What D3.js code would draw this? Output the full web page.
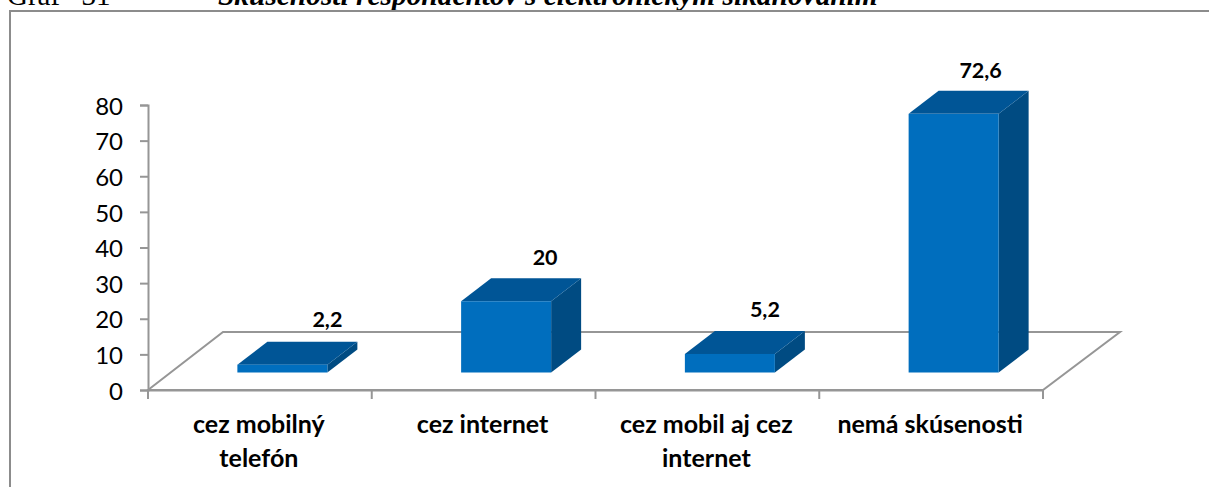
<!DOCTYPE html>
<html>
<head>
<meta charset="utf-8">
<script src="https://cdn.jsdelivr.net/npm/d3@7"></script>
<style>
  html, body { margin: 0; padding: 0; background: #fff; overflow: hidden; }
  svg { display: block; }
  .tick-label { font: 24px Lato, sans-serif; fill: #000; }
  .cat { font: bold 25px Lato, sans-serif; fill: #000; text-anchor: middle; }
  .val { font: bold 21.5px Lato, sans-serif; fill: #000; text-anchor: middle; }
  .floor { fill: none; stroke: #969696; stroke-width: 2; }
</style>
</head>
<body>
<svg id="chart" width="1209" height="487"></svg>
<script>
(function(){

// data
let categories = ["cez mobilný telefón", "cez internet", "cez mobil aj cez internet", "nemá skúsenosti"];
let values = [2.2, 20, 5.2, 72.6];
let valueLabels = ["2,2", "20", "5,2", "72,6"];
let yTicks = [0, 10, 20, 30, 40, 50, 60, 70, 80];
let catLines = [["cez mobilný", "telefón"], ["cez internet"], ["cez mobil aj cez", "internet"], ["nemá skúsenosti"]];

let svg = d3.select("#chart");

// caption cut off at the top of the picture
svg.append("text").attr("x", 7).attr("y", 5)
  .style("font", "29px 'Liberation Serif'").style("word-spacing", "14px").text("Graf 31");
svg.append("text").attr("x", 218).attr("y", 5)
  .style("font", "italic bold 29.4px 'Liberation Serif'")
  .text("Skúsenosti respondentov s elektronickým šikanovaním");

// chart frame
svg.append("path").attr("d", "M10,487 V11 H1209").attr("fill", "none")
  .attr("stroke", "#8c8c8c").attr("stroke-width", 2);

let x = d3.scaleBand().domain(categories).range([148, 1043]);
let y = d3.scaleLinear().domain([0, 80]).range([390, 105]);

// 3d offsets
let floorDx = 75, floorDy = -58,
    barDx = 30, barDy = -23,
    gapDx = (floorDx - barDx) / 2, gapDy = (floorDy - barDy) / 2,
    barW = 90;

// label nudges, the labels don't sit evenly over the bars
let labelDx = [45, 39, 35, 27],
    labelDy = [-15, -13, -14, -13];

let g = svg.append("g");

// floor
g.append("path").attr("class", "floor")
  .attr("d", "M148,390 L" + (148 + floorDx) + "," + (390 + floorDy)
    + " H" + (1043 + floorDx + 2) + " L1043,390 Z");

// y axis
let yAxis = g.append("g").attr("transform", "translate(148,0)")
  .call(d3.axisLeft(y).tickValues(yTicks).tickSize(8).tickPadding(17));
yAxis.selectAll("path, line").attr("stroke", "#969696").attr("stroke-width", 2);
yAxis.selectAll("text").attr("class", "tick-label").attr("font-family", null).attr("font-size", null).attr("dy", "0.38em");

// x axis
let xAxis = g.append("g").attr("transform", "translate(0,390)")
  .call(d3.axisBottom(x).tickValues([]).tickSizeOuter(0));
xAxis.select("path").attr("stroke", "#969696").attr("stroke-width", 2);
g.selectAll(".xt").data(d3.range(5)).enter().append("line")
  .attr("x1", i => 148 + i * x.step()).attr("x2", i => 148 + i * x.step())
  .attr("y1", 390).attr("y2", 399)
  .attr("stroke", "#969696").attr("stroke-width", 2);

// bars
let bars = g.selectAll(".bar").data(categories).enter().append("g").attr("class", "bar");

function left(i) { return x(categories[i]) + x.bandwidth() / 2 - barW / 2 + gapDx; }
function bottom() { return y(0) + gapDy; }
function top(i) { return bottom() - (y(0) - y(values[i])); }

bars.append("path").attr("fill", "#004b82").attr("d", (d, i) => {
  let r = left(i) + barW;
  return "M" + r + "," + top(i) + " l" + barDx + "," + barDy
    + " V" + (bottom() + barDy) + " L" + r + "," + bottom() + " Z";
});
bars.append("path").attr("fill", "#005596").attr("d", (d, i) =>
  "M" + left(i) + "," + top(i) + " l" + barDx + "," + barDy
    + " h" + barW + " l" + (-barDx) + "," + (-barDy) + " Z");
bars.append("rect").attr("fill", "#006ebe")
  .attr("x", (d, i) => left(i)).attr("y", (d, i) => top(i))
  .attr("width", barW).attr("height", (d, i) => bottom() - top(i));

// value labels
bars.append("text").attr("class", "val")
  .attr("x", (d, i) => left(i) + barW / 2 + labelDx[i])
  .attr("y", (d, i) => top(i) + barDy + labelDy[i])
  .text((d, i) => valueLabels[i]);

// category labels
catLines.forEach((lines, i) => {
  lines.forEach((line, j) => {
    g.append("text").attr("class", "cat")
      .attr("x", x(categories[i]) + x.bandwidth() / 2 - 1)
      .attr("y", 433 + j * 34)
      .text(line);
  });
});

})();
</script>
</body>
</html>
